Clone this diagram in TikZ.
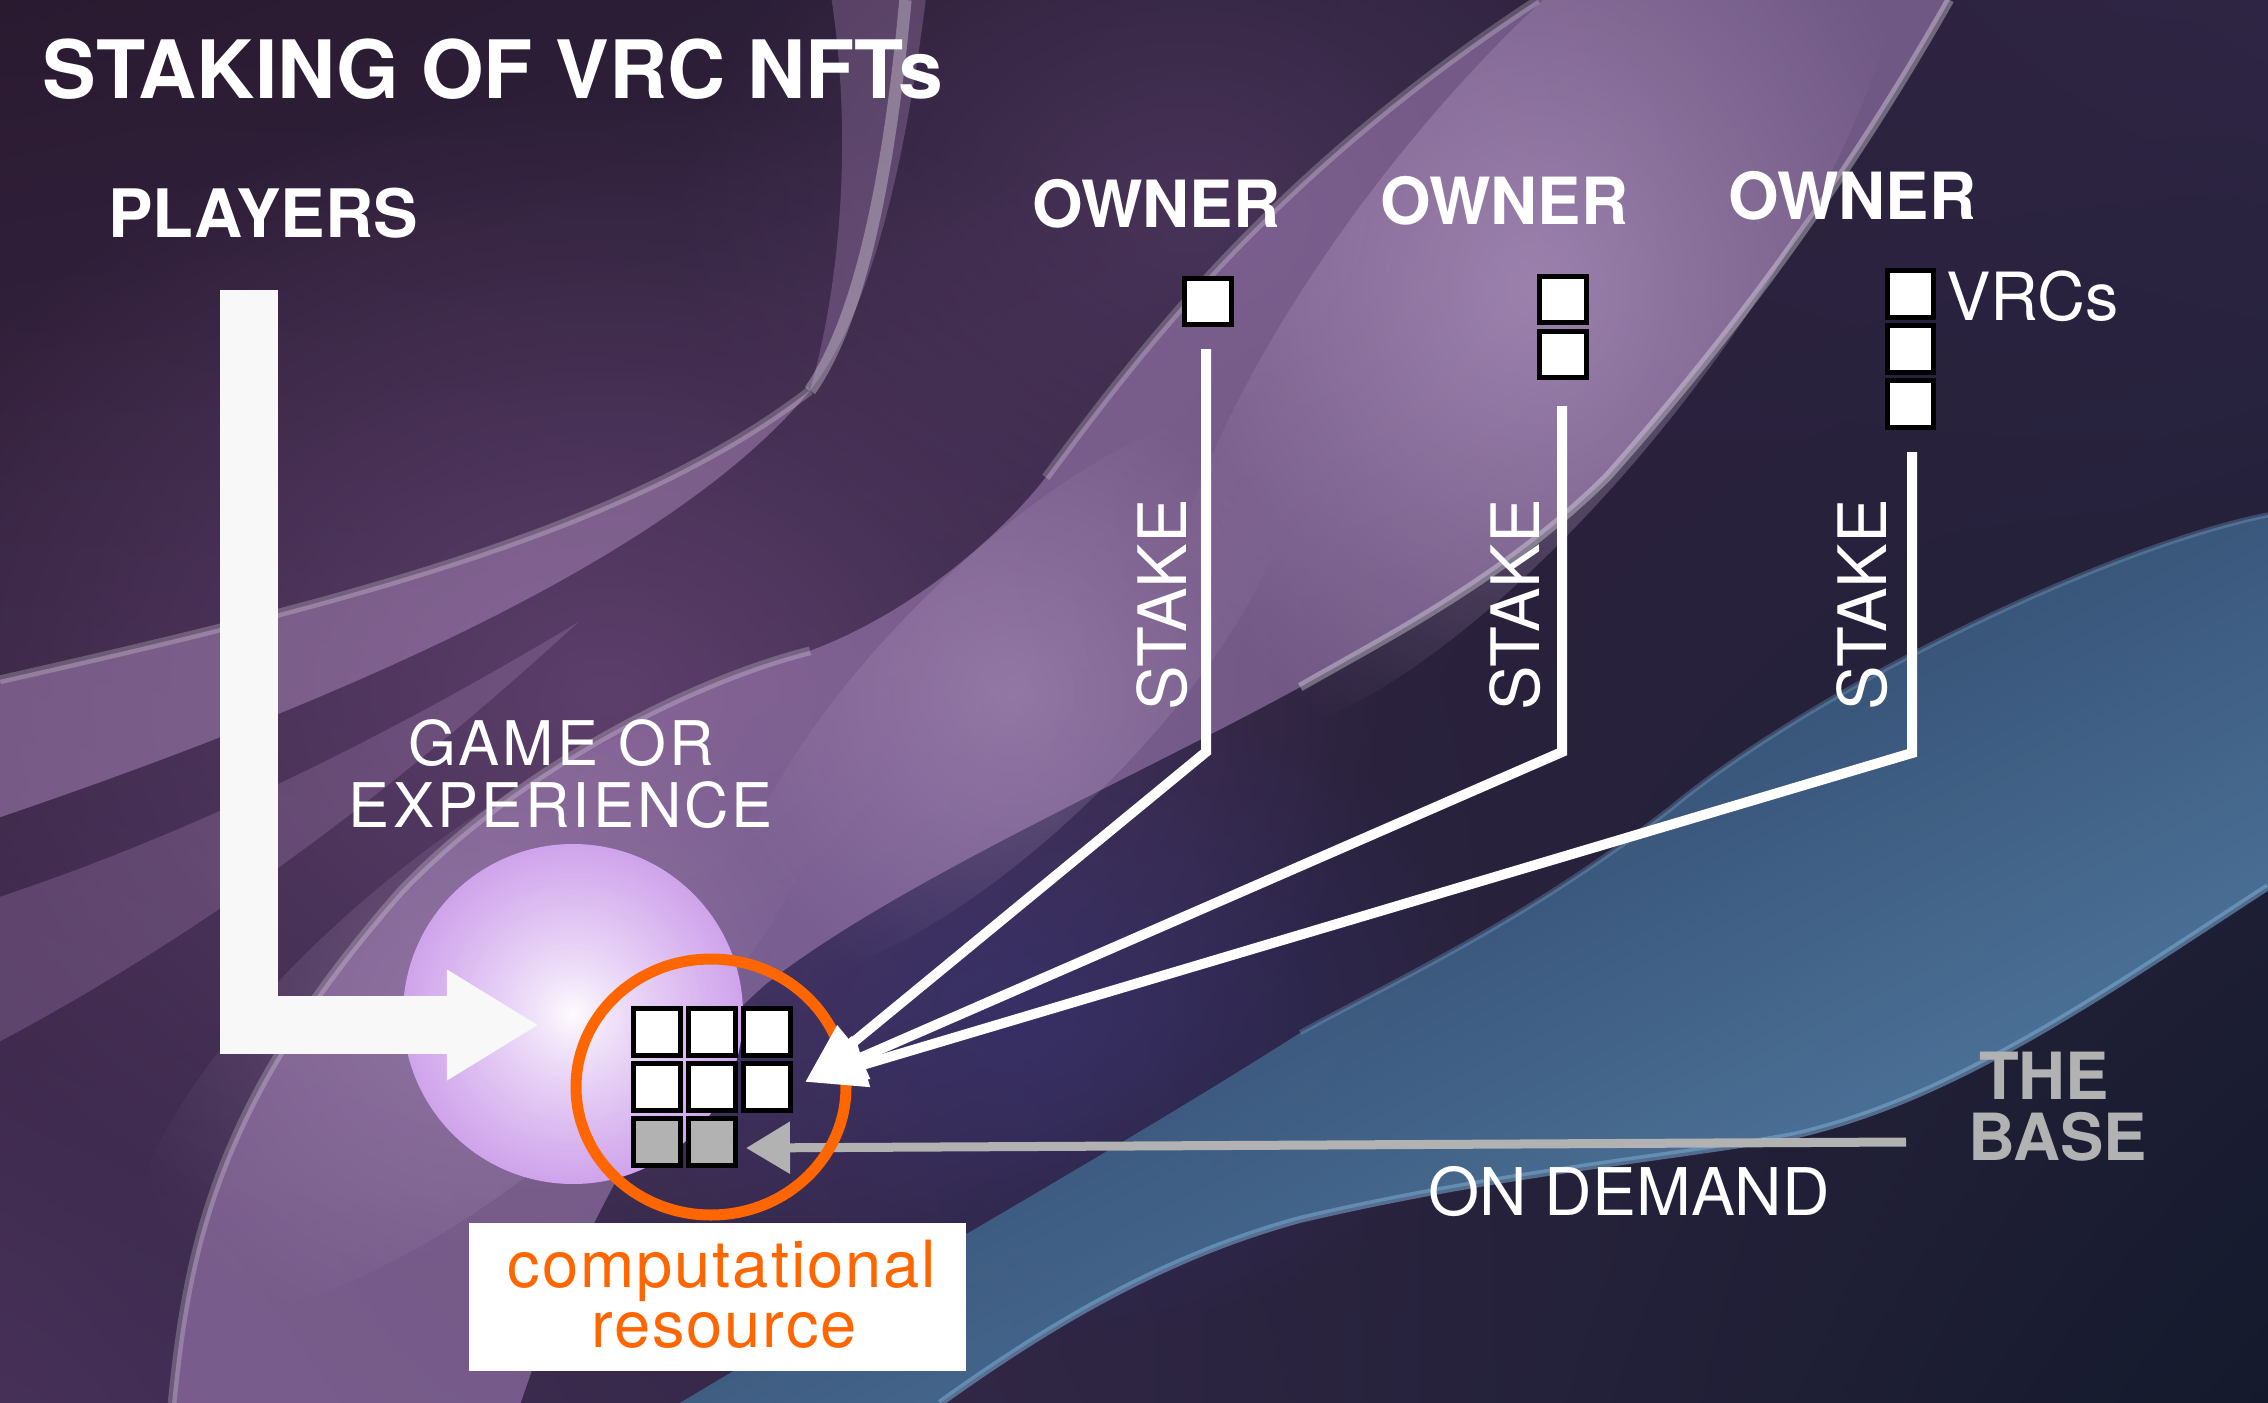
\documentclass[tikz,border=0pt]{standalone}
\usepackage{fontspec}
\setmainfont{TeX Gyre Heros}
\usetikzlibrary{arrows.meta,fadings,shadings}
\definecolor{owhite}{RGB}{248,248,248}
\definecolor{basegray}{RGB}{178,178,178}
\definecolor{orng}{RGB}{255,102,0}
\definecolor{lav}{RGB}{208,164,236}
\definecolor{plum}{RGB}{100,68,115}
\definecolor{plumB}{RGB}{92,64,108}
\definecolor{lavA}{RGB}{158,124,178}
\definecolor{lavB}{RGB}{205,178,220}
\definecolor{lavR}{RGB}{165,130,180}
\definecolor{blueTop}{RGB}{36,56,90}
\definecolor{blueBot}{RGB}{88,132,172}
\definecolor{blueE}{RGB}{125,172,210}
\definecolor{indigo}{RGB}{55,50,110}
\definecolor{sqgray}{RGB}{178,178,178}
\definecolor{bgUL}{RGB}{42,26,48}
\definecolor{bgUR}{RGB}{46,37,68}
\definecolor{bgLL}{RGB}{70,48,88}
\definecolor{bgLR}{RGB}{20,26,44}
\tikzfading[name=softfade, inner color=transparent!0, outer color=transparent!100]
\tikzset{
  vrc/.style={draw=black, line width=0.05cm, fill=white, minimum size=0.46cm, inner sep=0pt, outer sep=0pt},
  vrcgray/.style={vrc, fill=sqgray},
  boldlbl/.style={anchor=base west, text=white, font=\bfseries\fontsize{18.5}{22}\selectfont},
  stakelbl/.style={rotate=90, anchor=base west, text=white, font=\fontsize{19}{22}\selectfont},
  stakeline/.style={white, line width=0.1cm, line join=miter, -{Triangle[length=0.61cm,width=0.44cm]}},
  ridge/.style={white, opacity=.22, line width=2.5pt},
}
\begin{document}
\begin{tikzpicture}[x=0.01cm,y=-0.01cm, every node/.style={inner sep=0pt, outer sep=0pt}]
\useasboundingbox (0,0) rectangle (2268,1403);
% ---------- background ----------
\begin{scope}
\clip (0,0) rectangle (2268,1403);
\shade[upper left=bgUL, upper right=bgUR, lower left=bgLL, lower right=bgLR] (0,0) rectangle (2268,1403);
\begin{scope}[scale=1.4464]
  \fill[plum, path fading=softfade, opacity=.85] (420,480) ellipse (540 and 420);
  \fill[plumB, path fading=softfade, opacity=.6] (820,150) ellipse (360 and 280);
  \fill[indigo, path fading=softfade, opacity=.75] (700,700) ellipse (340 and 240);
  % top ribbon near the left ridge
  \fill[lavR, opacity=.35] (575,0) -- (640,0) .. controls (625,120) and (600,220) .. (560,270)
     .. controls (580,200) and (590,100) .. (575,0) -- cycle;
  % main silk ribbon
  \fill[lavA, opacity=.6] (1063,0) -- (1348,0) .. controls (1280,120) and (1200,230) .. (1111,330)
     .. controls (1040,400) and (960,440) .. (899,475) .. controls (780,540) and (620,610) .. (530,680)
     .. controls (460,740) and (400,850) .. (360,970) -- (119,970)
     .. controls (130,860) and (150,760) .. (278,615) .. controls (360,530) and (480,470) .. (560,450)
     .. controls (640,420) and (700,360) .. (723,330) .. controls (790,240) and (880,120) .. (1063,0) -- cycle;
  \fill[lavB, opacity=.45, path fading=softfade, rotate around={52:(1060,200)}] (1060,200) ellipse (380 and 130);
  \fill[lavB, opacity=.3, path fading=softfade, rotate around={45:(700,480)}] (700,480) ellipse (260 and 90);
  \fill[lavB, opacity=.25, path fading=softfade, rotate around={40:(330,700)}] (330,700) ellipse (300 and 110);
  \draw[ridge] (1063,0) .. controls (880,120) and (790,240) .. (723,330);
  \draw[ridge, opacity=.32] (1348,0) .. controls (1280,120) and (1200,230) .. (1111,330)
     .. controls (1040,400) and (960,440) .. (899,475);
  \draw[ridge] (119,970) .. controls (130,860) and (150,760) .. (278,615) .. controls (360,530) and (480,470) .. (560,450);
  % left ribbon
  \fill[lavR, opacity=.55] (0,470) .. controls (220,420) and (430,370) .. (560,270)
     .. controls (470,380) and (250,480) .. (0,565) -- cycle;
  \draw[ridge] (0,470) .. controls (220,420) and (430,370) .. (560,270);
  \draw[ridge, opacity=.3, line width=3.5pt] (626,0) .. controls (615,120) and (595,220) .. (560,270);
  % lower left ribbon
  \fill[lavR, opacity=.3] (0,620) .. controls (120,580) and (250,520) .. (400,430)
     .. controls (280,540) and (150,640) .. (0,720) -- cycle;
  % blue lens
  \shade[top color=blueTop, bottom color=blueBot, shading angle=27, opacity=.95]
     (1568,356) .. controls (1450,380) and (1250,480) .. (1155,559)
     .. controls (1050,640) and (960,680) .. (899,714) .. controls (780,790) and (620,880) .. (470,970)
     -- (650,970) .. controls (720,920) and (800,870) .. (899,843)
     .. controls (1040,810) and (1160,800) .. (1240,785) .. controls (1350,760) and (1450,690) .. (1568,613) -- cycle;
  \draw[blueE, opacity=.55, line width=2pt] (650,970) .. controls (720,920) and (800,870) .. (899,843)
     .. controls (1040,810) and (1160,800) .. (1240,785) .. controls (1350,760) and (1450,690) .. (1568,613);
  \draw[blueE, opacity=.3, line width=1.5pt] (1568,356) .. controls (1450,380) and (1250,480) .. (1155,559)
     .. controls (1050,640) and (960,680) .. (899,714);
\end{scope}
\end{scope}
% ---------- sphere ----------
\coordinate (sph) at (573,1014);
\foreach \i in {0,...,59}{
  \pgfmathsetmacro{\rr}{170*(1-\i/60)}
  \pgfmathsetmacro{\pp}{100*(1-\i/60)^0.8}
  \fill[lav!\pp!white] (sph) circle (\rr);
}
% ---------- players arrow ----------
\node[boldlbl, font=\bfseries\fontsize{19}{22}\selectfont] (players) at (108,237) {PLAYERS};
\coordinate (pstart) at (249,290);
\coordinate (ptip) at (539,1025);
\draw[owhite, line width=0.58cm, line join=miter, -{Triangle[length=0.92cm,width=1.04cm]}] (pstart) |- (ptip);
% ---------- computational grid ----------
\node[vrc] (g11) at (657,1032) {};
\node[vrc] (g12) at (712,1032) {};
\node[vrc] (g13) at (767,1032) {};
\node[vrc] (g21) at (657,1087) {};
\node[vrc] (g22) at (712,1087) {};
\node[vrc] (g23) at (767,1087) {};
\node[vrcgray] (g31) at (657,1142) {};
\node[vrcgray] (g32) at (712,1142) {};
% ---------- on demand arrow ----------
\coordinate (gs) at (1906,1142);
\coordinate (gt) at (746,1148);
\draw[basegray, line width=0.09cm, -{Triangle[length=0.44cm,width=0.5cm]}] (gs) -- (gt);
% ---------- orange ring ----------
\draw[orng, line width=0.11cm] (711,1087) ellipse (135 and 128);
% ---------- owners ----------
\node[boldlbl] (own1) at (1032,227) {OWNER};
\node[boldlbl] (own2) at (1380,225) {OWNER};
\node[boldlbl] (own3) at (1728,219) {OWNER};
\node[vrc] (v11) at (1208,301.5) {};
\node[vrc] (v21) at (1563,299.5) {};
\node[vrc] (v22) at (1563,354.5) {};
\node[vrc] (v31) at (1910.5,294) {};
\node[vrc] (v32) at (1910.5,349) {};
\node[vrc] (v33) at (1910.5,404) {};
\node[anchor=base west, text=white, font=\fontsize{18.9}{22}\selectfont] (vrcs) at (1946,320) {VRCs};
% ---------- stake lines ----------
\coordinate (l1a) at (1206,349); \coordinate (l1b) at (1206,752);
\coordinate (l2a) at (1562,406); \coordinate (l2b) at (1562,752);
\coordinate (l3a) at (1912,452); \coordinate (l3b) at (1912,753);
\coordinate (tip) at (805,1082);
\draw[stakeline] (l1a) -- (l1b) -- (tip);
\draw[stakeline] (l2a) -- (l2b) -- (tip);
\draw[stakeline] (l3a) -- (l3b) -- (tip);
\node[stakelbl] (st1) at (1186,710) {STAKE};
\node[stakelbl] (st2) at (1539,710) {STAKE};
\node[stakelbl] (st3) at (1886,710) {STAKE};
% ---------- texts ----------
\node[boldlbl, font=\bfseries\fontsize{22.9}{27}\selectfont] (title) at (43,98) {STAKING OF VRC NFTs};
\node[anchor=base, text=white, font=\fontsize{17.5}{21}\selectfont\addfontfeature{LetterSpace=5}] (game1) at (561,765) {GAME OR};
\node[anchor=base, text=white, font=\fontsize{17.5}{21}\selectfont\addfontfeature{LetterSpace=5}] (game2) at (561,827) {EXPERIENCE};
\node[anchor=base west, text=white, font=\fontsize{18.7}{22}\selectfont] (ondemand) at (1428,1215) {ON DEMAND};
\node[anchor=base west, text=basegray, font=\bfseries\fontsize{18.5}{22}\selectfont] (the) at (1979,1099) {THE};
\node[anchor=base west, text=basegray, font=\bfseries\fontsize{18.5}{22}\selectfont] (basel) at (1968,1160) {BASE};
\node[fill=white, minimum width=4.97cm, minimum height=1.48cm] (box) at (717.5,1297) {};
\node[anchor=base, text=orng, font=\fontsize{18.5}{22}\selectfont\addfontfeature{LetterSpace=3}] (comp) at (722,1287) {computational};
\node[anchor=base, text=orng, font=\fontsize{18.5}{22}\selectfont\addfontfeature{LetterSpace=3}] (res) at (724,1347) {resource};
\end{tikzpicture}
\end{document}
